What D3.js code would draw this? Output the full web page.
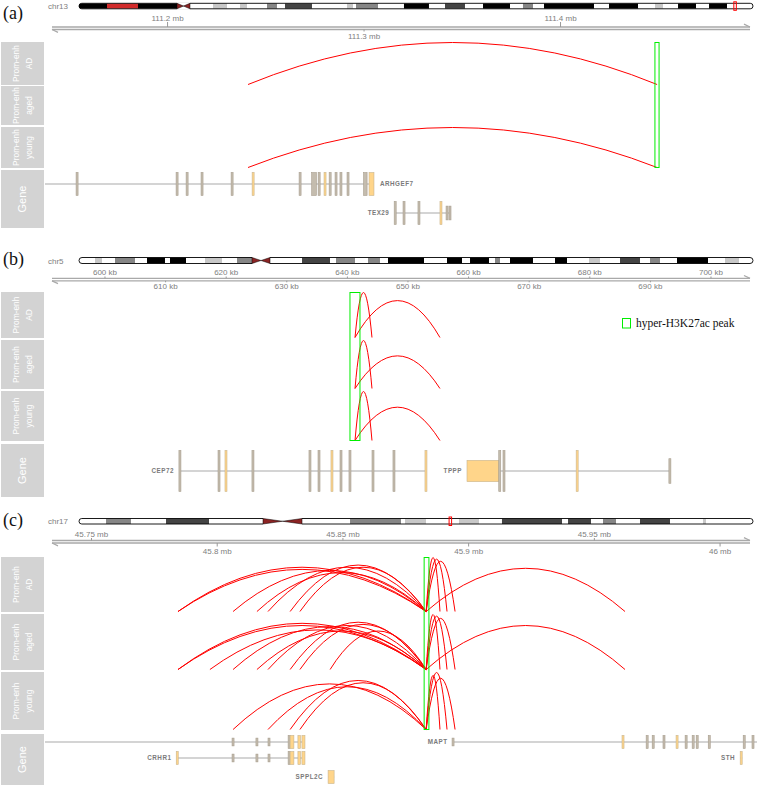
<!DOCTYPE html>
<html>
<head>
<meta charset="utf-8">
<script src="https://cdn.jsdelivr.net/npm/d3@7"></script>
<style>
  body { margin: 0; background: #fff; }
  svg { display: block; font-family: "Liberation Sans", Arial, sans-serif; }
</style>
</head>
<body>
<svg id="chart" width="757" height="785"></svg>
<script>
// ---------- data ----------
// cytobands [start Mb, end Mb, stain]
const chr13Bands = [
  [0, 4.75, "gpos100"], [4.75, 10.01, "stalk"], [10.01, 16.63, "gpos100"], [16.63, 18.83, "acen"],
  [18.83, 22.74, "gneg"], [22.74, 25.11, "gpos25"], [25.11, 27.32, "gneg"], [27.32, 28.5, "gpos25"],
  [28.5, 31.9, "gneg"], [31.9, 33.59, "gpos50"], [33.59, 34.95, "gneg"], [34.95, 39.53, "gpos75"],
  [39.53, 45.47, "gneg"], [45.47, 46.49, "gpos25"], [46.49, 47.0, "gneg"], [47.0, 50.73, "gpos50"],
  [50.73, 55.14, "gneg"], [55.14, 59.38, "gpos100"], [59.38, 62.1, "gneg"], [62.1, 65.49, "gpos75"],
  [65.49, 68.55, "gneg"], [68.55, 73.13, "gpos100"], [73.13, 75.33, "gneg"], [75.33, 77.03, "gpos50"],
  [77.03, 78.9, "gneg"], [78.9, 87.38, "gpos100"], [87.38, 89.93, "gneg"], [89.93, 94.85, "gpos100"],
  [94.85, 97.73, "gneg"], [97.73, 99.09, "gpos25"], [99.09, 101.64, "gneg"], [101.64, 104.69, "gpos100"],
  [104.69, 106.9, "gneg"], [106.9, 109.95, "gpos100"], [109.95, 114.36, "gneg"]
];
const chr5Bands = [
  [0, 4.31, "gneg"], [4.31, 6.2, "gpos25"], [6.2, 9.7, "gneg"], [9.7, 15.08, "gpos50"],
  [15.08, 18.32, "gneg"], [18.32, 23.16, "gpos100"], [23.16, 24.51, "gneg"], [24.51, 28.82, "gpos100"],
  [28.82, 33.94, "gneg"], [33.94, 38.52, "gpos25"], [38.52, 42.56, "gneg"], [42.56, 46.6, "gpos50"],
  [46.6, 51.45, "acen"], [51.45, 60.07, "gneg"], [60.07, 67.61, "gpos75"], [67.61, 69.22, "gneg"],
  [69.22, 74.34, "gpos50"], [74.34, 77.84, "gneg"], [77.84, 81.07, "gpos50"], [81.07, 83.23, "gneg"],
  [83.23, 92.93, "gpos100"], [92.93, 99.12, "gneg"], [99.12, 103.16, "gpos100"], [103.16, 105.32, "gneg"],
  [105.32, 110.43, "gpos100"], [110.43, 112.05, "gneg"], [112.05, 113.4, "gpos50"], [113.4, 116.09, "gneg"],
  [116.09, 122.28, "gpos100"], [122.28, 128.21, "gneg"], [128.21, 131.44, "gpos100"], [131.44, 137.37, "gneg"],
  [137.37, 140.33, "gpos25"], [140.33, 145.72, "gneg"], [145.72, 151.11, "gpos75"], [151.11, 153.8, "gneg"],
  [153.8, 156.49, "gpos50"], [156.49, 161.07, "gneg"], [161.07, 169.42, "gpos100"], [169.42, 174.0, "gneg"],
  [174.0, 177.77, "gpos25"], [177.77, 181.54, "gneg"]
];
const chr17Bands = [
  [0, 3.34, "gneg"], [3.34, 6.42, "gpos50"], [6.42, 10.75, "gneg"], [10.75, 16.06, "gpos75"],
  [16.06, 22.73, "gneg"], [22.73, 27.55, "acen"], [27.55, 33.48, "gneg"], [33.48, 39.78, "gpos50"],
  [39.78, 40.27, "gneg"], [40.27, 42.87, "gpos25"], [42.87, 46.94, "gneg"], [46.94, 49.41, "gpos25"],
  [49.41, 52.25, "gneg"], [52.25, 59.67, "gpos75"], [59.67, 60.41, "gneg"], [60.41, 63.25, "gpos75"],
  [63.25, 64.73, "gneg"], [64.73, 66.34, "gpos50"], [66.34, 69.3, "gneg"], [69.3, 73.01, "gpos75"],
  [73.01, 77.08, "gneg"], [77.08, 77.45, "gpos25"], [77.45, 83.26, "gneg"]
];

// axis ticks
const ticksATop = [111.2, 111.4], ticksABottom = [111.3];
const ticksBTop = [600, 620, 640, 660, 680, 700], ticksBBottom = [610, 630, 650, 670, 690];
const ticksCTop = [45.75, 45.85, 45.95], ticksCBottom = [45.8, 45.9, 46];

const trackNames = [["Prom-enh", "AD"], ["Prom-enh", "aged"], ["Prom-enh", "young"], ["Gene"]];

// hyper-H3K27ac peaks
const peakA = [111.4483, 111.4504];
const peakB = [640.51, 642.16];
const peakC = [45.8825, 45.8844];

// interactions [track, anchor1, anchor2, relative height]
const arcsA = [
  [0, 111.2412, 111.4494, 1.0],
  [2, 111.2412, 111.4494, 1.0]
];
const arcsB = [
  [0, 641.34, 644.14, 1.0], [0, 641.34, 655.36, 0.82],
  [1, 641.34, 644.14, 1.0], [1, 641.34, 655.36, 0.68],
  [2, 641.34, 644.14, 1.0], [2, 641.34, 655.36, 0.68]
];
const arcsC = [
  [0, 45.7846, 45.8833, 0.82], [0, 45.7846, 45.8833, 0.78], [0, 45.8065, 45.8833, 0.76],
  [0, 45.816, 45.8833, 0.72], [0, 45.8204, 45.8833, 0.82], [0, 45.8292, 45.8833, 0.86],
  [0, 45.8331, 45.8833, 0.82], [0, 45.8833, 45.8888, 1.0], [0, 45.8833, 45.8916, 0.97],
  [0, 45.8833, 45.8948, 0.93], [0, 45.8833, 45.9624, 0.8],
  [1, 45.7846, 45.8833, 0.84], [1, 45.7846, 45.8833, 0.8], [1, 45.7973, 45.8833, 0.72],
  [1, 45.8065, 45.8833, 0.78], [1, 45.816, 45.8833, 0.7], [1, 45.8204, 45.8833, 0.8],
  [1, 45.8292, 45.8833, 0.86], [1, 45.8331, 45.8833, 0.82], [1, 45.8451, 45.8833, 0.7],
  [1, 45.8833, 45.8888, 1.0], [1, 45.8833, 45.8916, 0.97], [1, 45.8833, 45.8948, 0.93],
  [1, 45.8833, 45.9624, 0.8],
  [2, 45.8065, 45.8833, 0.8], [2, 45.8204, 45.8833, 0.75], [2, 45.8292, 45.8833, 0.86],
  [2, 45.8331, 45.8833, 0.82], [2, 45.8833, 45.8888, 0.95], [2, 45.8833, 45.8916, 1.0],
  [2, 45.8833, 45.8948, 0.9]
];

// gene models, exons [start, end, type]; g = grey, o = coding, gs/os = short
const genesA = [
  { name: "ARHGEF7", row: 0, start: 111.10, end: 111.3053, label: "right", exons: [
    [111.1537, 111.1547, "g"], [111.2046, 111.2056, "g"], [111.2097, 111.2107, "g"], [111.2173, 111.2183, "g"],
    [111.2326, 111.2336, "g"], [111.2433, 111.2443, "o"], [111.2672, 111.2682, "g"], [111.2736, 111.276, "g"],
    [111.2769, 111.2779, "g"], [111.2799, 111.2809, "o"], [111.2825, 111.2835, "g"], [111.2855, 111.2865, "g"],
    [111.288, 111.289, "g"], [111.2916, 111.2926, "g"], [111.3, 111.3018, "g"], [111.3028, 111.3053, "o"]] },
  { name: "TEX29", row: 1, start: 111.316, end: 111.344, label: "left", exons: [
    [111.3157, 111.3165, "g"], [111.3202, 111.321, "g"], [111.3278, 111.3286, "g"], [111.339, 111.3398, "o"],
    [111.3422, 111.3428, "gs"], [111.3437, 111.3443, "gs"]] }
];
const genesB = [
  { name: "CEP72", row: 0, start: 612.46, end: 653.2, label: "left", exons: [
    [612.3, 612.6, "g"], [618.75, 619.05, "g"], [619.9, 620.2, "o"], [624.35, 624.65, "g"],
    [633.76, 634.06, "g"], [635.25, 635.55, "g"], [637.39, 637.69, "o"], [638.88, 639.18, "g"],
    [640.36, 640.66, "g"], [644.16, 644.46, "g"], [647.62, 647.92, "g"], [652.9, 653.2, "o"]] },
  { name: "TPPP", row: 0, start: 659.82, end: 693.4, label: "left", exons: [
    [659.82, 665.1, "os"], [665.1, 665.35, "g"], [665.8, 666.05, "g"], [677.85, 678.15, "o"],
    [693.2, 693.4, "gs"]] }
];
const genesC = [
  { name: "", row: 0, start: 45.70, end: 45.8351, label: "none", exons: [
    [45.8061, 45.8069, "gs"], [45.8156, 45.8164, "gs"], [45.8204, 45.8212, "gs"], [45.8284, 45.8292, "g"],
    [45.8292, 45.8307, "o"], [45.8323, 45.8333, "o"], [45.8339, 45.8351, "o"]] },
  { name: "CRHR1", row: 1, start: 45.7842, end: 45.8351, label: "left", exons: [
    [45.784, 45.7846, "o"], [45.8061, 45.8069, "gs"], [45.8156, 45.8164, "gs"], [45.8204, 45.8212, "gs"],
    [45.8284, 45.8292, "g"], [45.8292, 45.8307, "o"], [45.8323, 45.8333, "o"], [45.8339, 45.8351, "o"]] },
  { name: "SPPL2C", row: 2, start: 45.8443, end: 45.8467, label: "left", exons: [
    [45.8443, 45.8467, "o"]] },
  { name: "MAPT", row: 0, start: 45.894, end: 46.05, label: "left", exons: [
    [45.8938, 45.8942, "gs"], [45.9612, 45.962, "o"], [45.9708, 45.9716, "g"], [45.9732, 45.974, "g"],
    [45.9775, 45.9783, "g"], [45.9827, 45.9835, "o"], [45.9863, 45.9871, "g"], [45.9891, 45.9899, "g"],
    [45.9907, 45.9915, "g"], [45.9955, 45.9963, "g"], [46.0094, 46.0102, "g"], [46.0129, 46.0137, "g"]] },
  { name: "STH", row: 1, start: 46.0082, end: 46.009, label: "left", exons: [
    [46.0082, 46.009, "o"]] }
];

// ---------- styles ----------
const stainColor = { gneg: "#ffffff", gpos25: "#c8c8c8", gpos50: "#868686", gpos75: "#444444",
  gpos100: "#000000", stalk: "#d22b2b", acen: "#8b2323" };
const exonScale = { g: 1, o: 1, gs: 0.6, os: 0.52 };
const exonFill = { g: "#c4bcae", gs: "#c4bcae", o: "#ffd58a", os: "#ffd58a" };
const exonStroke = { g: "#a89e8e", gs: "#a89e8e", o: "#c9b58e", os: "#c9b58e" };

// ---------- layout ----------
const panels = [
  { tag: "(a)", tagY: 19, chr: "chr13", chrLen: 114.36, bands: chr13Bands, ideoY: 3.3, ideoH: 5.5,
    topBase: 20.5, axisY: 27, botBase: 38.5, domain: [111.1394, 111.4977], unit: " mb",
    ticksTop: ticksATop, ticksBottom: ticksABottom,
    tracks: [[42, 85], [86, 125], [127, 168], [170, 228]], rows: [184, 213], exonH: 23,
    arcs: arcsA, genes: genesA, peak: peakA },
  { tag: "(b)", tagY: 265, chr: "chr5", chrLen: 181.54, bands: chr5Bands, ideoY: 257.5, ideoH: 6,
    topBase: 275, axisY: 278.3, botBase: 289, domain: [590.68, 706.85], unit: " kb",
    ticksTop: ticksBTop, ticksBottom: ticksBBottom,
    tracks: [[292, 338], [340, 389], [391, 441], [444, 497]], rows: [471], exonH: 41,
    arcs: arcsB, genes: genesB, peak: peakB },
  { tag: "(c)", tagY: 526, chr: "chr17", chrLen: 83.26, bands: chr17Bands, ideoY: 518.5, ideoH: 5.5,
    topBase: 536.5, axisY: 540.5, botBase: 553.5, domain: [45.7329, 46.0129], unit: " mb",
    ticksTop: ticksCTop, ticksBottom: ticksCBottom,
    tracks: [[557, 612], [614, 670], [672, 730], [734, 785]], rows: [742, 758, 777], exonH: 13,
    arcs: arcsC, genes: genesC, peak: peakC }
];

const svg = d3.select("#chart");
const defs = svg.append("defs");

panels.forEach((p, i) => drawPanel(p, i));

// legend in panel (b)
svg.append("rect").attr("x", 622.5).attr("y", 318.5).attr("width", 8).attr("height", 9.5)
  .attr("fill", "none").attr("stroke", "#00ee00").attr("stroke-width", 1);
svg.append("text").attr("x", 636).attr("y", 327).text("hyper-H3K27ac peak")
  .attr("font-family", '"Liberation Serif", "DejaVu Serif", serif').attr("font-size", 11.5).attr("fill", "#111");

function drawPanel(p, i) {
  const g = svg.append("g");

  // panel tag
  g.append("text").attr("x", 3).attr("y", p.tagY).text(p.tag)
    .attr("font-family", '"Liberation Serif", "DejaVu Serif", serif').attr("font-size", 18).attr("fill", "#111");

  // ---- ideogram ----
  const xi = d3.scaleLinear().domain([0, p.chrLen]).range([79, 753]);
  g.append("text").attr("x", 48).attr("y", p.ideoY + p.ideoH / 2 + 3).text(p.chr)
    .attr("font-size", 8).attr("fill", "#808080");
  const cid = "ideo" + i;
  defs.append("clipPath").attr("id", cid).append("rect")
    .attr("x", xi(0)).attr("y", p.ideoY).attr("width", xi(p.chrLen) - xi(0)).attr("height", p.ideoH)
    .attr("rx", p.ideoH / 2);
  g.append("g").attr("clip-path", `url(#${cid})`)
    .selectAll("rect").data(p.bands.filter(b => b[2] !== "acen")).join("rect")
    .attr("x", d => xi(d[0])).attr("width", d => xi(d[1]) - xi(d[0]) + 0.3)
    .attr("y", p.ideoY).attr("height", p.ideoH)
    .attr("fill", d => stainColor[d[2]]);
  g.append("rect").attr("x", xi(0)).attr("y", p.ideoY).attr("width", xi(p.chrLen) - xi(0)).attr("height", p.ideoH)
    .attr("rx", p.ideoH / 2).attr("fill", "none").attr("stroke", "#000").attr("stroke-width", 0.9);
  p.bands.filter(b => b[2] === "acen").forEach(b => {
    const x0 = xi(b[0]), x1 = xi(b[1]), xm = (x0 + x1) / 2;
    const y0 = p.ideoY, y1 = p.ideoY + p.ideoH, ym = (y0 + y1) / 2;
    g.append("rect").attr("x", x0).attr("y", y0 - 1).attr("width", x1 - x0).attr("height", p.ideoH + 2).attr("fill", "#fff");
    g.append("path").attr("d", `M${x0},${y0}L${x0},${y1}L${xm},${ym}Z`)
      .attr("fill", stainColor.acen).attr("stroke", "#000").attr("stroke-width", 0.5);
    g.append("path").attr("d", `M${x1},${y0}L${x1},${y1}L${xm},${ym}Z`)
      .attr("fill", stainColor.acen).attr("stroke", "#000").attr("stroke-width", 0.5);
  });
  const m0 = xi(p.domain[0]), m1 = xi(p.domain[1]);
  const mw = Math.max(2.5, m1 - m0);
  g.append("rect").attr("x", (m0 + m1) / 2 - mw / 2).attr("y", p.ideoY - 1.5).attr("width", mw).attr("height", p.ideoH + 3)
    .attr("fill", "none").attr("stroke", "#ff0000").attr("stroke-width", 1);

  // ---- genome axis ----
  const x = d3.scaleLinear().domain(p.domain).range([48, 752]);
  const axCol = "#a9a9a9";
  const ya = p.axisY, yb = p.axisY + 2.5;
  g.append("line").attr("x1", 52).attr("x2", 750).attr("y1", ya).attr("y2", ya).attr("stroke", axCol).attr("stroke-width", 1.3);
  g.append("line").attr("x1", 52).attr("x2", 750).attr("y1", yb).attr("y2", yb).attr("stroke", axCol).attr("stroke-width", 1.3);
  g.append("path").attr("d", `M744,${ya - 2.8}L750,${ya}`).attr("stroke", axCol).attr("stroke-width", 1.3).attr("fill", "none");
  g.append("path").attr("d", `M52,${yb}L58,${yb + 2.8}`).attr("stroke", axCol).attr("stroke-width", 1.3).attr("fill", "none");

  const fmt = d => d + p.unit;
  const tsTop = Math.max(1.5, p.axisY - p.topBase - 1.5);
  g.append("g").attr("transform", `translate(0,${ya})`)
    .call(d3.axisTop(x).tickValues(p.ticksTop).tickSize(tsTop).tickPadding(1.5).tickFormat(fmt))
    .call(a => a.select(".domain").remove())
    .call(a => a.selectAll("line").attr("stroke", "#999"))
    .call(a => a.selectAll("text").attr("fill", "#808080").attr("font-size", 8)
      .attr("font-family", '"Liberation Sans", Arial, sans-serif').attr("y", -(p.axisY - p.topBase)).attr("dy", null));
  const tsBot = Math.max(1.5, p.botBase - yb - 7);
  g.append("g").attr("transform", `translate(0,${yb})`)
    .call(d3.axisBottom(x).tickValues(p.ticksBottom).tickSize(tsBot).tickFormat(fmt))
    .call(a => a.select(".domain").remove())
    .call(a => a.selectAll("line").attr("stroke", "#999"))
    .call(a => a.selectAll("text").attr("fill", "#808080").attr("font-size", 8)
      .attr("font-family", '"Liberation Sans", Arial, sans-serif').attr("y", p.botBase - yb).attr("dy", null));

  // ---- track titles ----
  p.tracks.forEach((t, k) => {
    g.append("rect").attr("x", 1).attr("y", t[0]).attr("width", 43).attr("height", t[1] - t[0]).attr("fill", "#d3d3d3");
    const lines = trackNames[k];
    const cy = (t[0] + t[1]) / 2;
    const fs = lines.length > 1 ? 8.4 : 11;
    lines.forEach((s, j) => {
      const cx = 22.5 + (lines.length > 1 ? (j === 0 ? -6.5 : 6.5) : 0);
      g.append("text").attr("transform", `translate(${cx},${cy}) rotate(-90)`)
        .attr("text-anchor", "middle").attr("dy", "0.35em").attr("font-size", fs).attr("fill", "#fff").text(s);
    });
  });

  // ---- content clip ----
  const ccid = "content" + i;
  defs.append("clipPath").attr("id", ccid).append("rect")
    .attr("x", 45).attr("y", p.tracks[0][0] - 3).attr("width", 712).attr("height", p.tracks[3][1] - p.tracks[0][0] + 3);
  const c = g.append("g").attr("clip-path", `url(#${ccid})`);

  // interaction arcs
  c.selectAll("path.arc").data(p.arcs).join("path").attr("class", "arc")
    .attr("d", d => {
      const t = p.tracks[d[0]];
      const base = t[1] - 0.5, H = t[1] - t[0] - 1;
      const x1 = x(d[1]), x2 = x(d[2]);
      return `M${x1},${base}Q${(x1 + x2) / 2},${base - 2 * H * d[3]} ${x2},${base}`;
    })
    .attr("fill", "none").attr("stroke", "#ff0000").attr("stroke-width", 1);

  // highlight
  const hx0 = x(p.peak[0]), hx1 = x(p.peak[1]);
  c.append("rect").attr("x", hx0).attr("y", p.tracks[0][0] + 0.5).attr("width", Math.max(3, hx1 - hx0))
    .attr("height", p.tracks[2][1] - p.tracks[0][0] - 1)
    .attr("fill", "none").attr("stroke", "#00ee00").attr("stroke-width", 1);

  // genes
  p.genes.forEach(gene => {
    const y = p.rows[gene.row];
    c.append("line").attr("x1", x(gene.start)).attr("x2", x(gene.end)).attr("y1", y).attr("y2", y)
      .attr("stroke", "#c6c6c6").attr("stroke-width", 1.4);
    c.append("g").selectAll("rect").data(gene.exons).join("rect")
      .attr("x", d => { const w = x(d[1]) - x(d[0]); return w < 2 ? (x(d[0]) + x(d[1])) / 2 - 1 : x(d[0]); })
      .attr("width", d => Math.max(2, x(d[1]) - x(d[0])))
      .attr("y", d => y - p.exonH * exonScale[d[2]] / 2)
      .attr("height", d => p.exonH * exonScale[d[2]])
      .attr("fill", d => exonFill[d[2]]).attr("stroke", d => exonStroke[d[2]]).attr("stroke-width", 0.6);
    if (gene.label !== "none") {
      const left = gene.label === "left";
      c.append("text").attr("x", left ? x(gene.exons[0][0]) - 5 : x(gene.end) + 6).attr("y", y).attr("dy", "0.35em")
        .attr("text-anchor", left ? "end" : "start").attr("font-size", 6.3).attr("font-weight", "bold")
        .attr("letter-spacing", 0.5).attr("fill", "#7a7a7a").text(gene.name);
    }
  });
}
</script>
</body>
</html>
